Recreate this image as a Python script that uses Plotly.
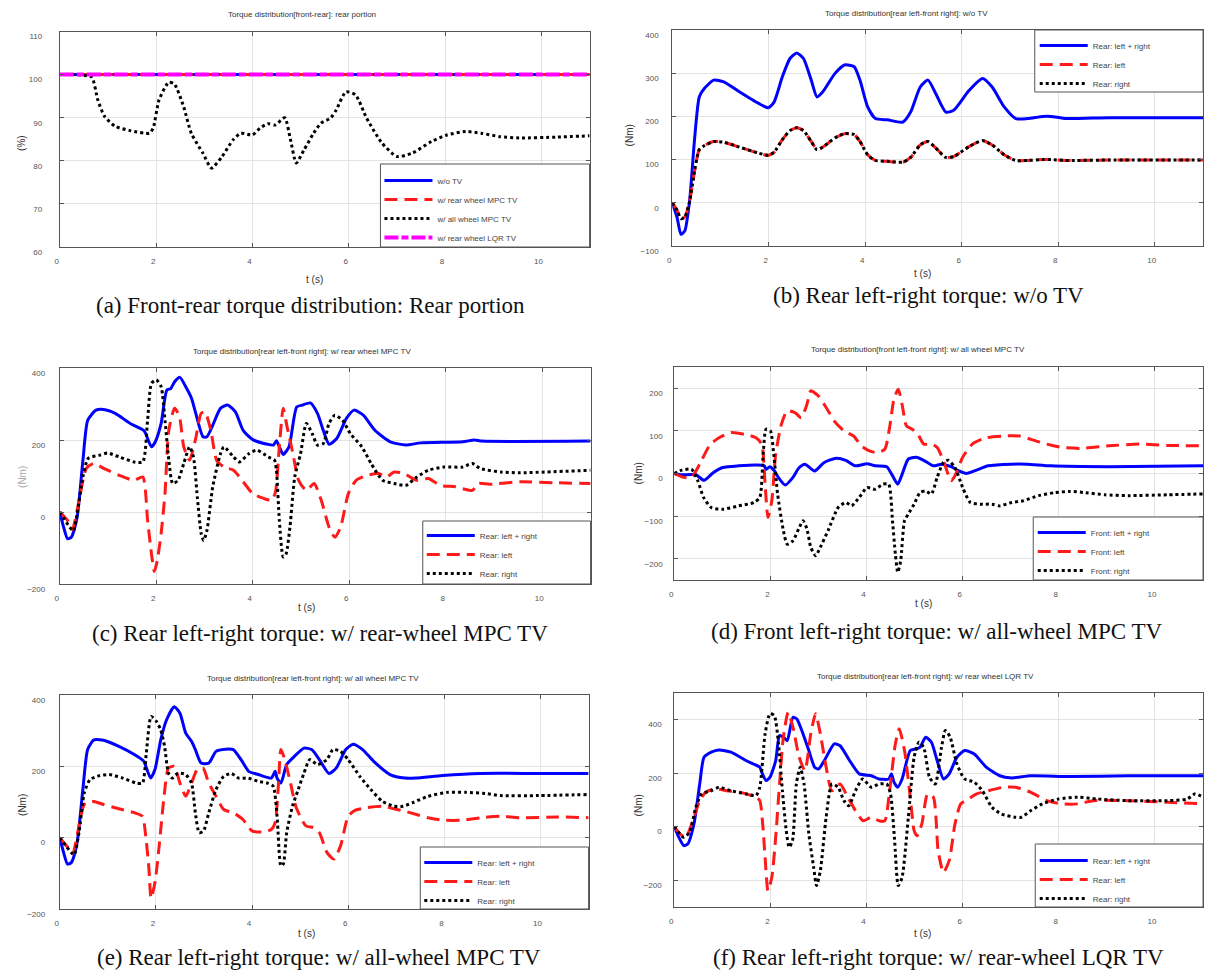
import plotly.graph_objects as go

# ---------------- DATA ----------------
a_t_flat = [0, 11]
a_wo_tv = [100, 100]
a_rear_mpc = [100, 100]
a_rear_lqr = [100, 100]
a_t_all = [0, 0.3, 0.66, 0.79, 0.93, 1.15, 1.46, 1.86, 1.94, 2.06, 2.26, 2.38, 2.57, 2.73, 2.97,
           3.15, 3.37, 3.6, 3.76, 4.0, 4.16, 4.32, 4.47, 4.67, 4.79, 4.91, 5.07, 5.27, 5.42, 5.62,
           5.74, 5.94, 6.14, 6.37, 6.69, 7.0, 7.32, 7.72, 8.04, 8.43, 8.75, 9.14, 9.54, 10.33, 11.0]
a_all_mpc = [100, 100, 99.4, 94.1, 90.3, 88, 87, 86.4, 87.6, 94.1, 98.2, 97.8, 92.6, 86.4, 81.8,
             78.3, 81, 84.9, 86.4, 86, 87.6, 88.6, 88.3, 90.0, 84.9, 79.5, 82.5, 86.4, 88.7, 89.9,
             91.8, 96.0, 95.3, 89.9, 84.1, 81, 81.8, 84.5, 86, 86.8, 86.4, 85.6, 85.3, 85.5, 85.8]

b_t = [0, 0.1, 0.18, 0.26, 0.36, 0.46, 0.56, 0.66, 0.86, 1.07, 1.39, 1.79, 1.99, 2.11, 2.28, 2.44,
       2.58, 2.72, 2.88, 3.0, 3.12, 3.37, 3.57, 3.77, 3.89, 4.05, 4.21, 4.46, 4.78, 4.94, 5.14, 5.3,
       5.46, 5.67, 5.83, 6.15, 6.43, 6.63, 6.88, 7.12, 7.36, 7.68, 7.85, 8.17, 9.06, 11.0]
b_sum = [0, -34, -73, -65, 5, 144, 245, 264, 284, 280, 257, 230, 220, 233, 291, 334, 347, 334, 284,
         245, 257, 299, 319, 315, 284, 222, 195, 192, 187, 210, 268, 284, 253, 210, 214, 260, 288,
         268, 222, 195, 195, 200, 200, 195, 197, 197]
b_left = [0, -17, -37, -33, 3, 72, 123, 132, 142, 140, 129, 115, 110, 117, 146, 167, 174, 167, 142,
          123, 129, 150, 160, 158, 142, 111, 98, 96, 94, 105, 134, 142, 127, 105, 107, 130, 144,
          134, 111, 98, 98, 100, 100, 98, 99, 99]
b_right = [0, -17, -37, -33, 3, 72, 123, 132, 142, 140, 129, 115, 110, 117, 146, 167, 174, 167, 142,
           123, 129, 150, 160, 158, 142, 111, 98, 96, 94, 105, 134, 142, 127, 105, 107, 130, 144,
           134, 111, 98, 98, 100, 100, 98, 99, 99]

c_t_sum = [0, 0.08, 0.16, 0.24, 0.36, 0.48, 0.58, 0.75, 0.91, 1.15, 1.46, 1.74, 1.78, 1.9, 1.98,
           2.1, 2.22, 2.3, 2.38, 2.49, 2.61, 2.73, 2.81, 2.97, 3.05, 3.17, 3.33, 3.48, 3.64, 3.8,
           4.0, 4.31, 4.43, 4.49, 4.55, 4.63, 4.75, 4.91, 5.03, 5.19, 5.34, 5.46, 5.58, 5.74, 5.94,
           6.1, 6.29, 6.53, 6.85, 7.17, 7.48, 8.35, 8.59, 8.75, 11.0]
c_sum = [0, -42, -74, -70, -14, 144, 255, 283, 285, 274, 246, 227, 218, 181, 195, 246, 339, 343,
         362, 374, 348, 316, 278, 209, 209, 241, 288, 297, 278, 227, 201, 188, 186, 198, 181, 160,
         181, 292, 297, 303, 274, 227, 188, 204, 260, 283, 269, 227, 195, 186, 192, 195, 200, 197, 197]
c_t_left = [0, 0.16, 0.26, 0.4, 0.55, 0.71, 0.91, 1.23, 1.54, 1.72, 1.82, 1.9, 1.96, 2.02, 2.1,
            2.18, 2.26, 2.38, 2.48, 2.57, 2.69, 2.81, 2.93, 3.01, 3.13, 3.25, 3.4, 3.6, 3.8, 4.0,
            4.24, 4.39, 4.47, 4.55, 4.63, 4.71, 4.83, 4.95, 5.11, 5.27, 5.42, 5.58, 5.7, 5.82, 5.98,
            6.14, 6.37, 6.61, 6.77, 6.93, 7.13, 7.4, 7.64, 7.88, 8.2, 8.55, 8.67, 8.91, 9.54, 10.33, 11.0]
c_left = [0, -23, -49, 32, 121, 135, 121, 102, 88, 97, -23, -116, -165, -135, -60, 51, 227, 288,
          265, 181, 144, 200, 274, 278, 227, 144, 125, 116, 84, 51, 37, 32, 56, 181, 288, 237, 163,
          88, 60, 79, 32, -42, -70, -42, 51, 88, 102, 107, 97, 111, 107, 88, 93, 74, 70, 60, 79, 77,
          84, 81, 79]
c_t_right = [0, 0.28, 0.36, 0.48, 0.59, 0.83, 0.99, 1.23, 1.54, 1.72, 1.82, 1.9, 2.0, 2.1, 2.18,
             2.26, 2.34, 2.45, 2.57, 2.69, 2.77, 2.85, 2.93, 2.98, 3.05, 3.17, 3.33, 3.4, 3.6, 3.72,
             3.92, 4.08, 4.32, 4.45, 4.49, 4.55, 4.63, 4.69, 4.77, 4.87, 4.99, 5.11, 5.23, 5.34, 5.46,
             5.58, 5.7, 5.86, 6.02, 6.26, 6.45, 6.69, 6.93, 7.17, 7.4, 7.64, 7.96, 8.35, 8.55, 8.71,
             9.14, 9.54, 11.0]
c_right = [0, -52, -5, 98, 149, 158, 164, 153, 139, 139, 255, 357, 367, 348, 255, 144, 79, 88, 135,
           181, 153, 42, -60, -79, -51, 70, 162, 181, 153, 139, 162, 172, 153, 144, 116, -23, -125,
           -116, -42, 98, 162, 246, 218, 186, 190, 246, 269, 255, 218, 181, 135, 88, 79, 74, 97, 116,
           125, 125, 135, 121, 111, 109, 116]

d_t_sum = [0, 0.12, 0.45, 0.62, 0.81, 1.01, 1.34, 1.74, 1.87, 1.91, 1.99, 2.07, 2.19, 2.31, 2.47,
           2.6, 2.72, 2.92, 3.12, 3.37, 3.57, 3.77, 4.01, 4.18, 4.42, 4.54, 4.65, 4.74, 4.87, 5.03,
           5.19, 5.39, 5.56, 5.76, 5.92, 6.08, 6.29, 6.53, 7.02, 7.34, 7.83, 9.04, 11.0]
d_sum = [0, -3, -3, -16, 2, 14, 18, 20, 18, 10, 16, 8, -13, -27, -9, 14, 22, 6, 26, 36, 31, 18, 23,
         18, 16, -5, -25, -2, 34, 38, 31, 18, 22, 16, 6, 0, 8, 18, 22, 22, 18, 16, 18]
d_t_left = [0, 0.2, 0.36, 0.53, 0.73, 0.93, 1.18, 1.46, 1.7, 1.82, 1.89, 1.95, 2.03, 2.11, 2.23,
            2.35, 2.51, 2.64, 2.76, 2.84, 3.0, 3.16, 3.33, 3.53, 3.73, 3.89, 4.06, 4.22, 4.38, 4.48,
            4.57, 4.66, 4.74, 4.83, 4.95, 5.07, 5.19, 5.35, 5.47, 5.6, 5.76, 5.84, 6.0, 6.2, 6.49,
            6.85, 7.18, 7.42, 7.75, 8.07, 8.48, 9.04, 9.69, 10.26, 11.0]
d_left = [0, -9, -9, 22, 65, 84, 96, 92, 84, 69, -25, -103, -64, 45, 116, 147, 143, 131, 162, 194,
          182, 155, 123, 100, 88, 65, 53, 49, 57, 108, 174, 198, 162, 112, 104, 92, 69, 69, 61, 30,
          -17, -5, 38, 69, 84, 88, 88, 80, 69, 61, 59, 65, 69, 66, 65]
d_t_right = [0, 0.16, 0.36, 0.49, 0.61, 0.77, 1.01, 1.34, 1.66, 1.78, 1.85, 1.91, 2.0, 2.07, 2.15,
             2.27, 2.35, 2.47, 2.6, 2.68, 2.76, 2.84, 2.94, 3.04, 3.2, 3.41, 3.57, 3.69, 3.85, 4.01,
             4.18, 4.34, 4.46, 4.54, 4.6, 4.65, 4.71, 4.79, 4.87, 4.99, 5.11, 5.23, 5.35, 5.47, 5.6,
             5.7, 5.84, 6.0, 6.16, 6.37, 6.61, 6.77, 7.02, 7.26, 7.58, 7.91, 8.23, 8.56, 8.96, 9.45,
             10.26, 11.0]
d_right = [0, 8, 10, -17, -56, -80, -84, -76, -68, -56, 45, 104, 100, 45, -48, -134, -166, -158,
           -127, -111, -130, -173, -193, -173, -134, -80, -68, -76, -56, -33, -37, -25, -25, -111,
           -189, -232, -205, -111, -95, -72, -45, -41, -48, -9, 26, 31, 14, -33, -68, -72, -72, -76,
           -68, -64, -52, -45, -42, -45, -50, -52, -50, -48]

e_t_sum = [0, 0.08, 0.16, 0.24, 0.36, 0.48, 0.58, 0.71, 0.91, 1.23, 1.55, 1.75, 1.79, 1.89, 1.98,
           2.1, 2.22, 2.38, 2.5, 2.62, 2.74, 2.82, 2.94, 3.1, 3.25, 3.45, 3.61, 3.77, 3.93, 4.13,
           4.4, 4.48, 4.52, 4.6, 4.72, 4.88, 5.08, 5.24, 5.4, 5.6, 5.75, 5.95, 6.1, 6.3, 6.53, 6.87,
           7.18, 7.4, 7.96, 8.75, 9.94, 11.0]
e_sum = [0, -42, -74, -70, -14, 135, 247, 274, 273, 256, 233, 214, 200, 167, 191, 274, 330, 367,
         349, 293, 270, 247, 209, 209, 242, 248, 247, 219, 186, 177, 167, 186, 167, 153, 205, 228,
         251, 247, 219, 180, 195, 247, 262, 247, 214, 177, 167, 167, 174, 180, 180, 180]
e_t_left = [0, 0.2, 0.27, 0.4, 0.51, 0.67, 0.91, 1.23, 1.55, 1.72, 1.78, 1.85, 1.9, 1.98, 2.06,
            2.17, 2.26, 2.38, 2.5, 2.62, 2.74, 2.86, 2.98, 3.1, 3.25, 3.41, 3.61, 3.81, 4.0, 4.24,
            4.4, 4.48, 4.55, 4.6, 4.68, 4.8, 4.92, 5.12, 5.28, 5.4, 5.56, 5.7, 5.84, 6.0, 6.15, 6.39,
            6.71, 6.95, 7.18, 7.42, 7.66, 7.98, 8.37, 8.77, 9.17, 9.56, 10.35, 11.0]
e_left = [0, -33, -45, 33, 93, 102, 93, 81, 70, 60, 14, -79, -170, -126, -33, 116, 195, 200, 153,
          116, 153, 191, 195, 153, 116, 79, 70, 51, 19, 16, 23, 42, 153, 247, 219, 153, 84, 33, 28,
          14, -42, -60, -23, 60, 77, 84, 88, 81, 74, 65, 56, 49, 49, 56, 60, 56, 58, 56]
e_t_right = [0, 0.24, 0.3, 0.4, 0.51, 0.63, 0.83, 1.03, 1.31, 1.59, 1.72, 1.8, 1.9, 2.01, 2.1,
             2.18, 2.26, 2.34, 2.46, 2.62, 2.74, 2.82, 2.9, 2.99, 3.1, 3.25, 3.41, 3.57, 3.72, 3.92,
             4.12, 4.32, 4.44, 4.52, 4.6, 4.65, 4.72, 4.84, 4.96, 5.08, 5.2, 5.36, 5.56, 5.68, 5.84,
             6.0, 6.24, 6.47, 6.71, 6.95, 7.14, 7.34, 7.66, 8.05, 8.45, 8.85, 9.17, 9.96, 11.0]
e_right = [0, -42, -48, 14, 126, 163, 174, 177, 167, 153, 153, 237, 340, 326, 302, 256, 181, 167,
           181, 177, 153, 70, 14, 19, 70, 135, 172, 180, 167, 167, 158, 153, 144, 60, -79, -74, 14,
           88, 135, 181, 219, 205, 219, 247, 242, 219, 172, 135, 102, 88, 88, 98, 116, 127, 127, 124,
           118, 118, 121]

f_t_sum = [0, 0.08, 0.2, 0.28, 0.41, 0.53, 0.62, 0.77, 0.93, 1.18, 1.5, 1.78, 1.82, 1.91, 1.99,
           2.11, 2.19, 2.27, 2.35, 2.47, 2.55, 2.68, 2.8, 2.92, 3.0, 3.12, 3.33, 3.45, 3.65, 3.85,
           4.1, 4.26, 4.46, 4.52, 4.57, 4.65, 4.74, 4.91, 5.03, 5.11, 5.23, 5.35, 5.47, 5.6, 5.72,
           5.88, 6.04, 6.24, 6.49, 6.77, 7.02, 7.42, 8.23, 9.45, 11.0]
f_sum = [0, -34, -71, -65, 10, 159, 259, 278, 286, 278, 246, 222, 203, 172, 184, 246, 340, 334, 321,
         408, 402, 346, 284, 222, 215, 246, 309, 302, 246, 197, 190, 178, 178, 197, 166, 147, 178,
         284, 290, 296, 334, 315, 246, 178, 197, 259, 284, 271, 222, 190, 182, 190, 187, 190, 190]
f_t_left = [0, 0.12, 0.24, 0.41, 0.53, 0.65, 0.85, 1.09, 1.38, 1.7, 1.78, 1.84, 1.89, 1.95, 2.03,
            2.11, 2.19, 2.27, 2.37, 2.47, 2.6, 2.72, 2.84, 2.94, 3.04, 3.16, 3.28, 3.45, 3.61, 3.77,
            3.93, 4.1, 4.26, 4.38, 4.48, 4.6, 4.68, 4.79, 4.91, 4.99, 5.05, 5.15, 5.27, 5.39, 5.49,
            5.6, 5.72, 5.84, 5.96, 6.12, 6.29, 6.53, 6.85, 7.1, 7.42, 7.75, 8.07, 8.39, 8.72, 9.45,
            10.26, 11.0]
f_left = [0, -27, -40, 35, 97, 128, 141, 134, 128, 110, 97, 10, -115, -239, -189, -40, 159, 334,
          427, 371, 259, 209, 346, 421, 346, 222, 134, 159, 110, 60, 22, 35, 22, 22, 134, 309, 365,
          284, 110, -15, -34, 10, 122, 110, -90, -171, -127, 10, 85, 103, 122, 134, 147, 147, 128,
          97, 85, 85, 97, 97, 91, 85]
f_t_right = [0, 0.2, 0.32, 0.45, 0.57, 0.77, 0.93, 1.18, 1.5, 1.7, 1.78, 1.89, 1.99, 2.08, 2.17,
             2.25, 2.33, 2.39, 2.46, 2.54, 2.62, 2.7, 2.8, 2.9, 2.96, 3.04, 3.16, 3.28, 3.41, 3.53,
             3.63, 3.77, 3.92, 4.1, 4.26, 4.42, 4.5, 4.58, 4.66, 4.74, 4.87, 4.99, 5.09, 5.19, 5.31,
             5.43, 5.56, 5.64, 5.74, 5.88, 6.04, 6.24, 6.41, 6.61, 6.81, 7.1, 7.22, 7.42, 7.66, 7.99,
             8.39, 8.8, 9.45, 10.26, 10.67, 10.83, 11.0]
f_right = [0, -40, -21, 72, 122, 134, 147, 134, 122, 116, 147, 346, 421, 415, 309, 134, -15, -77,
           -52, 159, 222, 159, -27, -152, -220, -164, 35, 159, 147, 97, 78, 134, 178, 147, 159, 159,
           122, -40, -220, -189, 35, 259, 315, 296, 184, 159, 296, 359, 334, 234, 178, 166, 134, 72,
           47, 35, 35, 60, 85, 103, 110, 103, 97, 97, 103, 122, 110]

x_ticks = [0, 2, 4, 6, 8, 10]
a_y_ticks = [60, 70, 80, 90, 100, 110]
b_y_ticks = [-100, 0, 100, 200, 300, 400]
c_y_ticks = [-200, 0, 200, 400]
d_y_ticks = [-200, -100, 0, 100, 200]
e_y_ticks = [-200, 0, 200, 400]
f_y_ticks = [-200, 0, 200, 400]

a_names = ["w/o TV", "w/ rear wheel MPC TV", "w/ all wheel MPC TV", "w/ rear wheel LQR TV"]
rear_names = ["Rear: left + right", "Rear: left", "Rear: right"]
front_names = ["Front: left + right", "Front: left", "Front: right"]

titles = [
    "Torque distribution[front-rear]: rear portion",
    "Torque distribution[rear left-front right]: w/o TV",
    "Torque distribution[rear left-front right]: w/ rear wheel MPC TV",
    "Torque distribution[front left-front right]: w/ all wheel MPC TV",
    "Torque distribution[rear left-front right]: w/ all wheel MPC TV",
    "Torque distribution[rear left-front right]: w/ rear wheel LQR TV",
]
captions = [
    "(a) Front-rear torque distribution: Rear portion",
    "(b) Rear left-right torque: w/o TV",
    "(c) Rear left-right torque: w/ rear-wheel MPC TV",
    "(d) Front left-right torque: w/ all-wheel MPC TV",
    "(e) Rear left-right torque: w/ all-wheel MPC TV",
    "(f) Rear left-right torque: w/ rear-wheel LQR TV",
]
y_labels = ["(%)", "(Nm)", "(Nm)", "(Nm)", "(Nm)", "(Nm)"]

# ---------------- LAYOUT GEOMETRY ----------------
REF_W, REF_H = 1213, 977      # reference picture
W, H = 1213, 987              # figure size (vertical compensation for the capture)
SY = H / REF_H


def px(x):
    return x / W


def py(y):
    return 1 - (y * SY) / H


SANS = "Liberation Sans, Arial, sans-serif"
SERIF = "Liberation Serif, Times New Roman, serif"
BLUE = "#0000ff"
RED = "#ff1a1a"
BLACK = "#000000"
MAG = "#ff00ff"

panels = [
    dict(box=(55, 587, 31.5, 247), yr=[60, 110], yt=a_y_ticks, title=(298, 14), cap=(307, 305),
         xl=(311, 279), yl=(16, 143), lbox=(377, 587, 164, 247), ly=177, lx=382, ystand=15),
    dict(box=(670, 1203, 30, 246), yr=[-100, 400], yt=b_y_ticks, title=(905, 13), cap=(927, 296),
         xl=(921, 273), yl=(627, 135), lbox=(1034, 1203, 30, 92), ly=42, lx=1040, ystand=11),
    dict(box=(55, 588, 368, 584), yr=[-200, 400], yt=c_y_ticks, title=(298, 351), cap=(316, 634),
         xl=(303, 607), yl=(17, 477), lbox=(419.5, 588, 521, 584), ly=532, lx=424.5, ystand=12),
    dict(box=(672, 1203, 367, 580), yr=[-250, 250], yt=d_y_ticks, title=(917, 349), cap=(936, 631),
         xl=(922, 603), yl=(636, 473), lbox=(1032.5, 1203, 517, 580), ly=529, lx=1038, ystand=9),
    dict(box=(55, 586, 695, 909), yr=[-200, 400], yt=e_y_ticks, title=(309, 678), cap=(315, 957),
         xl=(303, 933), yl=(17, 805), lbox=(417, 586, 847, 909), ly=859, lx=422, ystand=12),
    dict(box=(672, 1203, 692.7, 907), yr=[-300, 500], yt=f_y_ticks, title=(924, 676), cap=(937, 957),
         xl=(921, 933), yl=(636, 805), lbox=(1034.5, 1203, 844, 907), ly=857, lx=1040, ystand=10),
]

fig = go.Figure()


def sfx(i):
    return "" if i == 1 else str(i)


def add(i, t, v, name, color, dash, width):
    fig.add_trace(go.Scatter(
        x=t, y=v, mode="lines", name=name,
        line=dict(color=color, dash=dash, width=width, shape="spline", smoothing=0.6),
        xaxis="x" + sfx(i), yaxis="y" + sfx(i), legend="legend" + sfx(i),
        hoverinfo="skip"))


DASH = "13px,7px"
add(1, a_t_flat, a_wo_tv, a_names[0], BLUE, "solid", 3)
add(1, a_t_flat, a_rear_mpc, a_names[1], RED, DASH, 3)
add(1, a_t_all, a_all_mpc, a_names[2], BLACK, "dot", 3)
add(1, a_t_flat, a_rear_lqr, a_names[3], MAG, "14px,3px,7px,3px", 4)
add(2, b_t, b_sum, rear_names[0], BLUE, "solid", 3)
add(2, b_t, b_left, rear_names[1], RED, DASH, 3)
add(2, b_t, b_right, rear_names[2], BLACK, "dot", 3)
add(3, c_t_sum, c_sum, rear_names[0], BLUE, "solid", 3)
add(3, c_t_left, c_left, rear_names[1], RED, DASH, 3)
add(3, c_t_right, c_right, rear_names[2], BLACK, "dot", 3)
add(4, d_t_sum, d_sum, front_names[0], BLUE, "solid", 3)
add(4, d_t_left, d_left, front_names[1], RED, DASH, 3)
add(4, d_t_right, d_right, front_names[2], BLACK, "dot", 3)
add(5, e_t_sum, e_sum, rear_names[0], BLUE, "solid", 3)
add(5, e_t_left, e_left, rear_names[1], RED, DASH, 3)
add(5, e_t_right, e_right, rear_names[2], BLACK, "dot", 3)
add(6, f_t_sum, f_sum, rear_names[0], BLUE, "solid", 3)
add(6, f_t_left, f_left, rear_names[1], RED, DASH, 3)
add(6, f_t_right, f_right, rear_names[2], BLACK, "dot", 3)

layout = dict(
    width=W, height=H, margin=dict(l=0, r=0, t=0, b=0, pad=0),
    paper_bgcolor="white", plot_bgcolor="white",
    font=dict(family=SANS, size=8, color="#444"),
    showlegend=True, shapes=[], annotations=[],
)

tickfont = dict(family=SANS, size=8, color="#555")
for i, p in enumerate(panels, start=1):
    l, r, t, b = p["box"]
    s = sfx(i)
    layout["xaxis" + s] = dict(
        domain=[px(l), px(r)], anchor="y" + s, range=[0, 11], tickvals=x_ticks,
        showgrid=True, gridcolor="#e4e4e4", gridwidth=1, zeroline=False,
        showline=True, linecolor="#555", linewidth=1, mirror="ticks",
        ticks="inside", ticklen=4, tickcolor="#555", tickfont=tickfont,
        ticklabelstandoff=6, ticklabelshift=-3, fixedrange=True)
    layout["yaxis" + s] = dict(
        domain=[py(b), py(t)], anchor="x" + s, range=p["yr"], tickvals=p["yt"],
        showgrid=True, gridcolor="#e4e4e4", gridwidth=1, zeroline=False,
        showline=True, linecolor="#555", linewidth=1, mirror="ticks",
        ticks="inside", ticklen=4, tickcolor="#555", tickfont=tickfont,
        ticklabelstandoff=p["ystand"], ticklabelshift=5, fixedrange=True)
    ll, lr, lt, lb = p["lbox"]
    layout["shapes"].append(dict(
        type="rect", xref="paper", yref="paper", x0=px(ll), x1=px(lr), y0=py(lb), y1=py(lt),
        fillcolor="white", line=dict(color="#555", width=1), layer="above"))
    layout["legend" + s] = dict(
        x=px(p["lx"] - 6), y=py(p["ly"] - 11), xanchor="left", yanchor="top",
        bgcolor="rgba(0,0,0,0)", borderwidth=0, itemwidth=48,
        font=dict(family=SANS, size=8, color="#444"), tracegroupgap=0)
    layout["annotations"].append(dict(
        text=titles[i - 1], x=px(p["title"][0]), y=py(p["title"][1]), xref="paper", yref="paper",
        showarrow=False, xanchor="center", yanchor="middle",
        font=dict(family=SANS, size=8, color="#333")))
    layout["annotations"].append(dict(
        text=captions[i - 1], x=px(p["cap"][0]), y=py(p["cap"][1]), xref="paper", yref="paper",
        showarrow=False, xanchor="center", yanchor="middle",
        font=dict(family=SERIF, size=23, color="#111")))
    layout["annotations"].append(dict(
        text="t (s)", x=px(p["xl"][0]), y=py(p["xl"][1]), xref="paper", yref="paper",
        showarrow=False, xanchor="center", yanchor="middle",
        font=dict(family=SANS, size=10, color="#333")))
    layout["annotations"].append(dict(
        text=y_labels[i - 1], x=px(p["yl"][0]), y=py(p["yl"][1]), xref="paper", yref="paper",
        showarrow=False, xanchor="center", yanchor="middle", textangle=-90,
        font=dict(family=SANS, size=10, color="#aaa" if i == 3 else "#333")))

fig.update_layout(**layout)
fig.write_html(
    "out.html",
    config={"displayModeBar": False},
    post_script="document.documentElement.style.margin='0';document.documentElement.style.padding='0';"
                "document.body.style.margin='0';document.body.style.padding='0';"
                "document.documentElement.style.overflow='hidden';document.body.style.overflow='hidden';")
